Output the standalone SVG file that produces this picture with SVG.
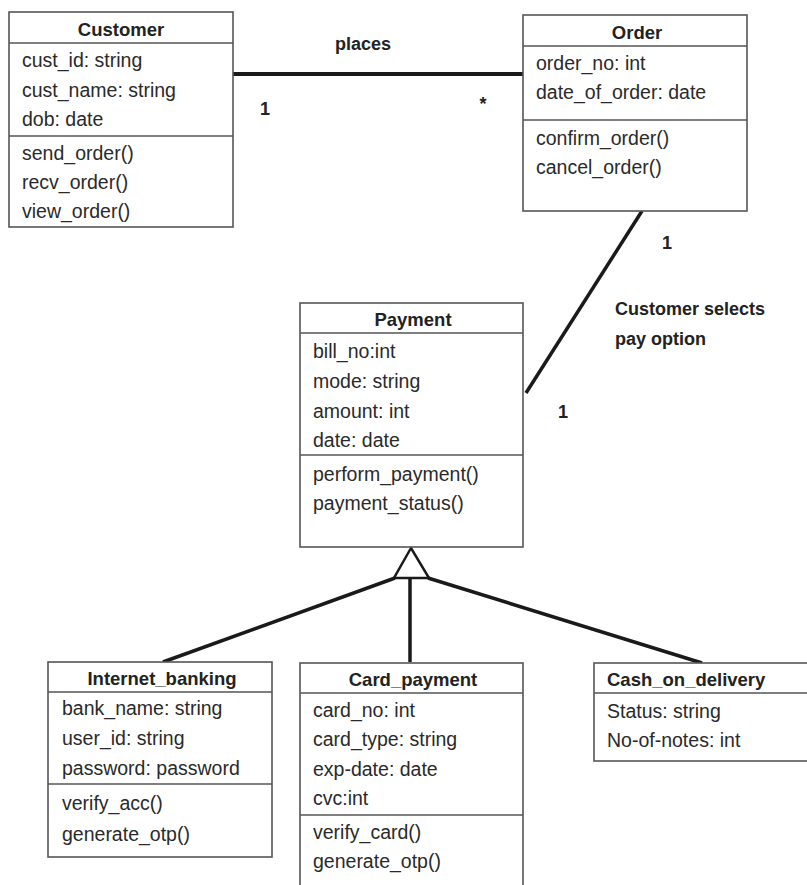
<svg xmlns="http://www.w3.org/2000/svg" width="807" height="885" viewBox="0 0 807 885">
  <style>
    .box { fill: #ffffff; stroke: #555555; stroke-width: 1.6; }
    .div { stroke: #555555; stroke-width: 1.6; }
    .title { font-family: "Liberation Sans", Arial, sans-serif; font-size: 18.5px; font-weight: bold; fill: #222222; text-anchor: middle; }
    .title-left { text-anchor: start; }
    .member { font-family: "Liberation Sans", Arial, sans-serif; font-size: 19.5px; fill: #2a2a2a; }
    .label { font-family: "Liberation Sans", Arial, sans-serif; font-size: 18px; font-weight: bold; fill: #222222; }
    .mid { text-anchor: middle; }
    .assoc { stroke: #1a1a1a; stroke-width: 4; fill: none; }
    .gen { stroke: #1a1a1a; stroke-width: 3.5; fill: none; }
    .tri { stroke: #1a1a1a; stroke-width: 2.5; fill: #ffffff; stroke-linejoin: miter; }
  </style>
  <rect width="807" height="885" fill="#ffffff"/>

  <!-- connectors -->
  <g id="connectors">
    <line class="assoc" x1="233" y1="74" x2="523" y2="74"/>
    <line class="gen" x1="642" y1="211" x2="526" y2="393"/>
    <line class="gen" x1="395" y1="578" x2="163" y2="662"/>
    <line class="gen" x1="410" y1="578" x2="410" y2="662"/>
    <line class="gen" x1="428" y1="578" x2="702" y2="663"/>
    <polygon class="tri" points="411,548 394,578 429,578"/>
    <text class="label mid" x="363" y="50">places</text>
    <text class="label mid" x="265" y="115">1</text>
    <text class="label mid" x="483" y="110">*</text>
    <text class="label mid" x="667" y="249">1</text>
    <text class="label" x="615" y="315">Customer selects</text>
    <text class="label" x="615" y="345">pay option</text>
    <text class="label mid" x="563" y="418">1</text>
  </g>

  <!-- Customer -->
  <g id="customer">
    <rect class="box" x="9" y="12" width="224" height="215"/>
    <line class="div" x1="9" y1="43" x2="233" y2="43"/>
    <line class="div" x1="9" y1="136" x2="233" y2="136"/>
    <text class="title" x="121" y="36">Customer</text>
    <text class="member" x="22" y="67">cust_id: string</text>
    <text class="member" x="22" y="97">cust_name: string</text>
    <text class="member" x="22" y="126">dob: date</text>
    <text class="member" x="22" y="160">send_order()</text>
    <text class="member" x="22" y="189">recv_order()</text>
    <text class="member" x="22" y="218">view_order()</text>
  </g>

  <!-- Order -->
  <g id="order">
    <rect class="box" x="523" y="15" width="224" height="196"/>
    <line class="div" x1="523" y1="46" x2="747" y2="46"/>
    <line class="div" x1="523" y1="120" x2="747" y2="120"/>
    <text class="title" x="637" y="39">Order</text>
    <text class="member" x="536" y="70">order_no: int</text>
    <text class="member" x="536" y="99">date_of_order: date</text>
    <text class="member" x="536" y="145">confirm_order()</text>
    <text class="member" x="536" y="174">cancel_order()</text>
  </g>

  <!-- Payment -->
  <g id="payment">
    <rect class="box" x="300" y="303" width="223" height="244"/>
    <line class="div" x1="300" y1="333" x2="523" y2="333"/>
    <line class="div" x1="300" y1="455" x2="523" y2="455"/>
    <text class="title" x="413" y="326">Payment</text>
    <text class="member" x="313" y="358">bill_no:int</text>
    <text class="member" x="313" y="388">mode: string</text>
    <text class="member" x="313" y="418">amount: int</text>
    <text class="member" x="313" y="447">date: date</text>
    <text class="member" x="313" y="481">perform_payment()</text>
    <text class="member" x="313" y="510">payment_status()</text>
  </g>

  <!-- Internet_banking -->
  <g id="internet-banking">
    <rect class="box" x="48" y="662" width="224" height="195"/>
    <line class="div" x1="48" y1="692" x2="272" y2="692"/>
    <line class="div" x1="48" y1="784" x2="272" y2="784"/>
    <text class="title" x="162" y="685">Internet_banking</text>
    <text class="member" x="62" y="715">bank_name: string</text>
    <text class="member" x="62" y="745">user_id: string</text>
    <text class="member" x="62" y="775">password: password</text>
    <text class="member" x="62" y="810">verify_acc()</text>
    <text class="member" x="62" y="841">generate_otp()</text>
  </g>

  <!-- Card_payment (runs past the lower edge) -->
  <g id="card-payment">
    <rect class="box" x="300" y="663" width="223" height="230"/>
    <line class="div" x1="300" y1="693" x2="523" y2="693"/>
    <line class="div" x1="300" y1="815" x2="523" y2="815"/>
    <text class="title" x="413" y="686">Card_payment</text>
    <text class="member" x="313" y="717">card_no: int</text>
    <text class="member" x="313" y="746">card_type: string</text>
    <text class="member" x="313" y="776">exp-date: date</text>
    <text class="member" x="313" y="805">cvc:int</text>
    <text class="member" x="313" y="839">verify_card()</text>
    <text class="member" x="313" y="868">generate_otp()</text>
  </g>

  <!-- Cash_on_delivery (runs past the right edge) -->
  <g id="cash-on-delivery">
    <rect class="box" x="594" y="663" width="230" height="98"/>
    <line class="div" x1="594" y1="693" x2="807" y2="693"/>
    <text class="title title-left" x="607" y="686">Cash_on_delivery</text>
    <text class="member" x="607" y="718">Status: string</text>
    <text class="member" x="607" y="747">No-of-notes: int</text>
  </g>
</svg>
